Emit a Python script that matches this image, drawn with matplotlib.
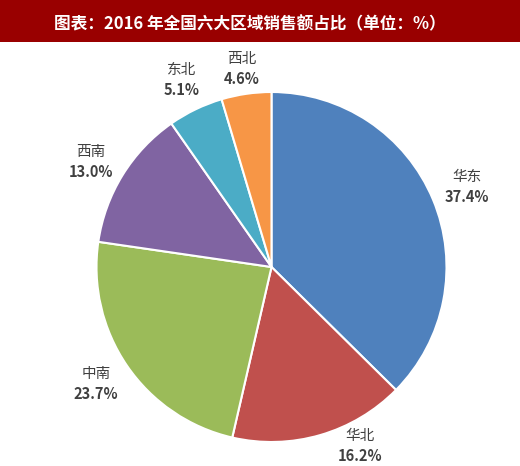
import matplotlib
matplotlib.use('Agg')
import matplotlib.pyplot as plt
from matplotlib.patches import Rectangle

plt.rcParams['font.family'] = ['Noto Sans CJK SC', 'DejaVu Sans']

# data
regions = ['华东', '华北', '中南', '西南', '东北', '西北']
shares = [37.4, 16.2, 23.7, 13.0, 5.1, 4.6]
colors = ['#4F81BD', '#C0504D', '#9BBB59', '#8064A2', '#4BACC6', '#F79646']
title = '图表：2016 年全国六大区域销售额占比（单位：%）'

# label block centres in pixel space (x from left, y from top)
label_pos = [(467, 187), (360, 446), (96, 384), (91, 162), (182, 80), (242, 69)]

W, H = 520, 466
fig = plt.figure(figsize=(W / 100, H / 100), dpi=100)
ax = fig.add_axes([0, 0, 1, 1])
ax.set_xlim(0, W)
ax.set_ylim(0, H)
ax.set_aspect('equal')
ax.axis('off')

ax.pie(shares, colors=colors, startangle=90, counterclock=False,
       center=(271.5, H - 267), radius=175,
       wedgeprops=dict(edgecolor='white', linewidth=1.5))
ax.set_xlim(0, W)
ax.set_ylim(0, H)

for name, val, (px, py) in zip(regions, shares, label_pos):
    ax.text(px, H - py + 10, name, ha='center', va='center',
            fontsize=10.5, color='#404040')
    ax.text(px, H - py - 10, f'{val:.1f}%', ha='center', va='center',
            fontsize=10.5, color='#404040', fontweight='bold')

# title bar
ax.add_patch(Rectangle((0, H - 42), W, 42, facecolor='#990000',
                       edgecolor='none', zorder=3))
ax.text(250, H - 24, title, ha='center', va='center', color='white',
        fontsize=12, fontweight='bold', zorder=4)

fig.savefig('out.png', dpi=100)
